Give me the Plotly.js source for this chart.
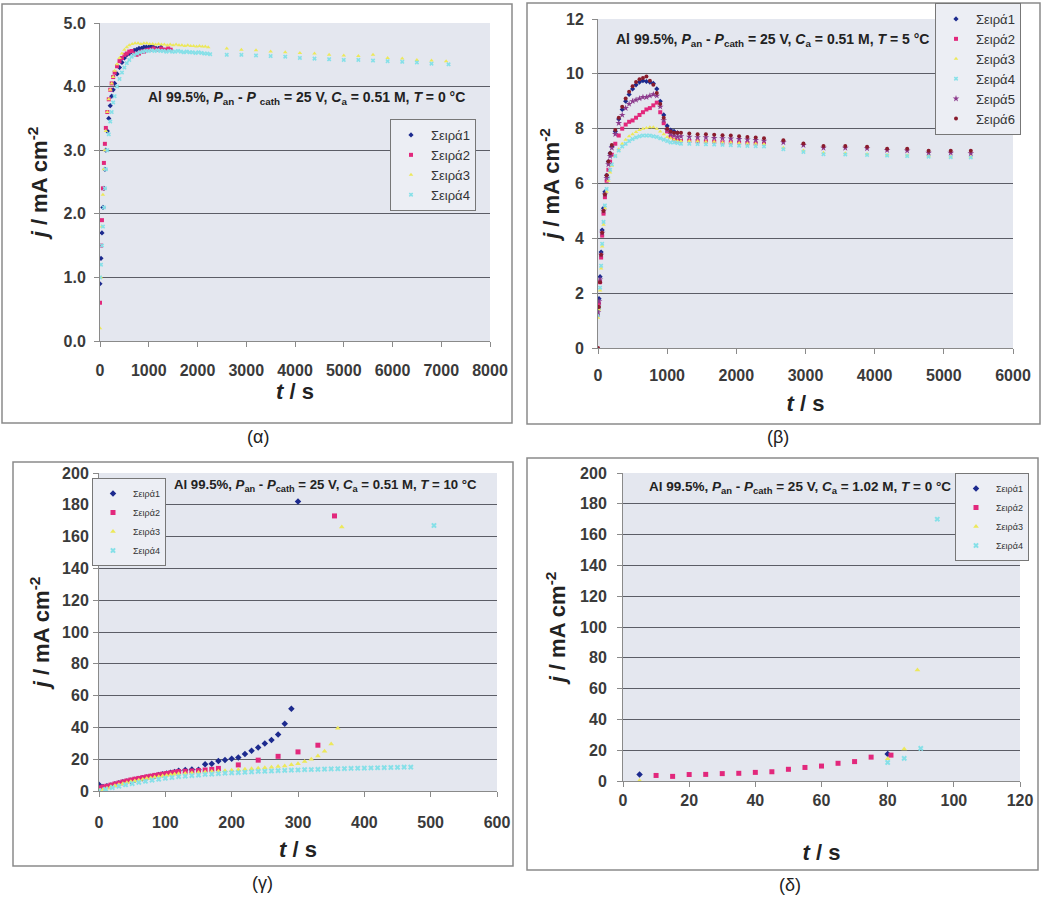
<!DOCTYPE html>
<html><head><meta charset="utf-8">
<script src="https://cdn.plot.ly/plotly-3.0.1.min.js"></script>
<style>body{margin:0;background:#fff}#chart{width:1042px;height:900px}</style>
</head><body><div id="chart"></div>
<script>
const seriesNames = ['Σειρά1','Σειρά2','Σειρά3','Σειρά4','Σειρά5','Σειρά6'];

// ---------- (α) Al 99.5%, 25 V, 0.51 M, 0 °C ----------
const tA1 = [0,20,40,60,80,100,120,150,180,210,240,270,300,350,400,450,500,550,600,650,700,750,800,850,900,950,1000,1050,1100,1150,1200,1250];
const jA1 = [0.9,1.3,1.7,2.1,2.4,2.7,3.0,3.3,3.5,3.7,3.85,3.95,4.05,4.2,4.3,4.38,4.45,4.5,4.52,4.55,4.57,4.58,4.6,4.6,4.62,4.62,4.62,4.63,4.62,4.6,4.6,4.62];
const tA2 = [0,20,40,60,80,100,120,150,180,210,240,270,300,350,400,450,500,550,600,650,700,750,800,850,900,950,1000,1050,1100,1150,1200,1250,1300,1350,1400,1450];
const jA2 = [0.6,1.5,1.9,2.4,2.8,3.1,3.35,3.6,3.8,3.95,4.05,4.15,4.22,4.32,4.4,4.45,4.5,4.52,4.55,4.56,4.52,4.5,4.52,4.55,4.55,4.57,4.58,4.58,4.6,4.58,4.58,4.6,4.58,4.58,4.6,4.58];
const tA3 = [0,20,40,60,80,100,120,150,180,210,240,270,300,350,400,450,500,550,600,660,720,780,840,900,960,1020,1080,1140,1200,1260,1320,1380,1440,1500,1560,1620,1680,1740,1800,1860,1920,1980,2040,2100,2160,2220,2600,2900,3200,3500,3800,4100,4400,4700,5000,5300,5600,5900,6200,6500,6800,7100];
const jA3 = [0.2,1.0,1.8,2.3,2.7,3.0,3.3,3.6,3.8,3.95,4.05,4.15,4.25,4.35,4.45,4.52,4.58,4.62,4.65,4.67,4.68,4.68,4.67,4.68,4.68,4.67,4.67,4.66,4.67,4.66,4.66,4.65,4.66,4.65,4.66,4.65,4.65,4.64,4.65,4.64,4.64,4.63,4.64,4.63,4.63,4.62,4.6,4.58,4.57,4.55,4.54,4.53,4.52,4.5,4.49,4.48,4.5,4.45,4.44,4.42,4.41,4.4];
const tA4 = [0,20,40,60,80,100,120,150,180,210,240,270,300,350,400,450,500,550,600,650,700,760,820,880,940,1000,1060,1120,1180,1240,1300,1360,1420,1480,1540,1600,1660,1720,1780,1840,1900,1960,2020,2080,2140,2200,2260,2600,2900,3200,3500,3800,4100,4400,4700,5000,5300,5600,5900,6200,6500,6800,7150];
const jA4 = [1.0,1.2,1.5,1.8,2.1,2.4,2.7,3.0,3.25,3.45,3.6,3.75,3.85,4.0,4.12,4.22,4.3,4.37,4.42,4.47,4.5,4.52,4.54,4.55,4.56,4.56,4.57,4.56,4.57,4.56,4.56,4.55,4.56,4.55,4.55,4.56,4.55,4.54,4.55,4.54,4.54,4.53,4.54,4.53,4.52,4.52,4.51,4.5,4.5,4.49,4.48,4.47,4.45,4.44,4.43,4.42,4.42,4.41,4.4,4.39,4.38,4.36,4.35];

// ---------- (β) Al 99.5%, 25 V, 0.51 M, 5 °C ----------
const tB_rise = [0,15,30,45,60,80,100,125,150,175,200,250,300,350,400,450,500,550,600,650,700,750,800,850,900,950,1000,1050,1100,1150];
const tB_plateau = [1200,1320,1440,1560,1680,1800,1920,2040,2160,2280,2400];
const tB_late = [2680,2970,3260,3575,3890,4180,4470,4780,5100,5390];
const jB1_rise = [1.4,1.8,2.6,3.5,4.3,5.1,5.7,6.3,6.8,7.1,7.35,7.9,8.35,8.7,9.0,9.25,9.45,9.6,9.7,9.75,9.72,9.7,9.65,9.45,9.0,8.5,8.1,7.95,7.9,7.85];
const jB2_rise = [1.2,1.6,2.4,3.3,4.1,4.9,5.5,6.1,6.5,6.8,7.05,7.45,7.75,8.0,8.15,8.25,8.3,8.4,8.5,8.6,8.7,8.75,8.85,8.95,8.6,8.2,7.9,7.7,7.6,7.55];
const jB2_plateau = [7.55,7.55,7.54,7.53,7.52,7.5,7.5,7.48,7.47,7.46,7.45];
const jB3_rise = [1.1,1.4,2.1,2.9,3.7,4.5,5.1,5.7,6.1,6.4,6.65,7.0,7.25,7.45,7.6,7.72,7.8,7.88,7.95,8.0,8.02,8.05,8.05,8.0,7.9,7.8,7.7,7.65,7.6,7.55];
const jB3_plateau = [7.55,7.55,7.54,7.52,7.52,7.5,7.5,7.48,7.46,7.45,7.44];
const jB3_late = [7.3,7.2,7.12,7.1,7.08,7.05,7.03,7.0,6.98,6.98];
const jB4_rise = [1.2,1.5,2.2,3.0,3.8,4.6,5.2,5.8,6.2,6.5,6.7,7.0,7.2,7.35,7.45,7.55,7.62,7.68,7.72,7.75,7.75,7.75,7.72,7.7,7.65,7.6,7.55,7.5,7.5,7.48];
const jB4_plateau = [7.45,7.45,7.44,7.43,7.42,7.41,7.4,7.38,7.37,7.36,7.35];
const jB4_late = [7.25,7.15,7.07,7.06,7.04,7.02,7.0,6.98,6.96,6.95];
const jB5_rise = [1.3,1.7,2.5,3.4,4.2,5.0,5.6,6.2,6.7,7.0,7.3,7.8,8.2,8.5,8.75,8.9,9.0,9.05,9.1,9.15,9.15,9.2,9.25,9.2,8.8,8.3,7.95,7.8,7.75,7.7];
const jB5_plateau = [7.72,7.7,7.68,7.68,7.66,7.65,7.64,7.62,7.6,7.58,7.56];
const jB5_late = [7.5,7.4,7.3,7.3,7.28,7.22,7.2,7.12,7.12,7.1];
const jB6_rise = [0,1.5,2.4,3.4,4.2,5.0,5.6,6.3,6.8,7.1,7.4,7.95,8.4,8.8,9.1,9.35,9.55,9.7,9.8,9.85,9.9,9.75,9.6,9.3,8.9,8.4,8.0,7.9,7.85,7.85];
const jB6_plateau = [7.85,7.82,7.8,7.8,7.78,7.76,7.75,7.72,7.7,7.68,7.65];
const jB6_late = [7.58,7.46,7.37,7.37,7.34,7.27,7.27,7.19,7.19,7.19];

// ---------- (γ) Al 99.5%, 25 V, 0.51 M, 10 °C ----------
const tG_early = [0,6,12,18,24,30,36,42,48,54,60,66,72,78,84,90,96,102,108,114,120];
const jG1_early = [4.0,2.5,3.0,3.5,4.2,4.8,5.5,6.0,6.5,7.0,7.5,8.0,8.5,9.0,9.5,10.0,10.5,11.0,11.5,12.0,12.8];
const jG2_early = [2.0,2.5,3.0,3.7,4.4,5.0,5.7,6.3,6.9,7.4,7.9,8.4,8.9,9.3,9.8,10.2,10.6,11.0,11.4,11.8,12.2];
const jG3_early = [0.5,1.0,1.8,2.6,3.3,4.0,4.6,5.2,5.8,6.3,6.8,7.3,7.8,8.2,8.6,9.0,9.4,9.8,10.2,10.5,10.8];
const tG1_late = [130,140,150,160,170,180,190,200,210,220,230,240,250,260,270,280,290,300];
const jG1_late = [13.2,13.5,13.4,16.8,17.2,18.8,19.5,20.3,21.0,23.2,25.3,27.4,29.9,32.0,35.6,42.3,51.8,182];
const tG2_late = [130,140,150,160,170,180,210,240,270,300,330,355];
const jG2_late = [12.4,12.6,12.8,13.2,13.6,14.2,16.4,19.4,21.8,24.6,28.8,173];
const tG3_late = [130,140,150,160,170,180,190,200,210,220,230,240,250,260,270,280,290,300,310,320,330,340,350,360,366];
const jG3_late = [11.0,11.3,11.6,11.9,12.2,12.5,12.8,13.1,13.4,13.7,14.0,14.3,14.6,15.0,15.4,15.8,16.5,17.2,18.5,20.0,22.0,25.0,29.5,39.5,166];
const tG4 = [0,10,20,30,40,50,60,70,80,90,100,110,120,130,140,150,160,170,180,190,200,210,220,230,240,250,260,270,280,290,300,310,320,330,340,350,360,370,380,390,400,410,420,430,440,450,460,470,505];
const jG4 = [0.2,1.0,2.1,3.0,3.9,4.6,5.4,6.1,6.8,7.4,8.0,8.5,9.0,9.3,9.7,10.0,10.4,10.6,10.9,11.2,11.4,11.6,11.8,12.0,12.3,12.4,12.6,12.8,13.0,13.1,13.2,13.4,13.5,13.6,13.8,13.9,14.0,14.1,14.2,14.3,14.4,14.5,14.6,14.7,14.8,14.9,15.0,15.0,167];

// ---------- (δ) Al 99.5%, 25 V, 1.02 M, 0 °C ----------
const tD1 = [5,80];
const jD1 = [4.3,17.5];
const tD2 = [10,15,20,25,30,35,40,45,50,55,60,65,70,75,81];
const jD2 = [3.6,3.0,4.2,4.3,4.8,5.0,5.6,6.0,7.6,8.8,9.7,11.5,12.6,15.5,16.8];
const tD3 = [5,80,85,89];
const jD3 = [0.2,14.5,20.8,72];
const tD4 = [80,85,90,95];
const jD4 = [12.0,14.7,21.2,170];

// ---------- tick values ----------
const xTicksA = [0,1000,2000,3000,4000,5000,6000,7000,8000];
const yTicksA = [0,1,2,3,4,5];
const xTicksB = [0,1000,2000,3000,4000,5000,6000];
const yTicksB = [0,2,4,6,8,10,12];
const xTicksG = [0,100,200,300,400,500,600];
const yTicksG = [0,20,40,60,80,100,120,140,160,180,200];
const xTicksD = [0,20,40,60,80,100,120];
const yTicksD = [0,20,40,60,80,100,120,140,160,180,200];

const colors = ['#1c2a8e','#e2287c','#ece85a','#86e0e8','#8c3a8c','#8a1c2c'];
const symbols = ['diamond','square','triangle-up','x','star','circle'];

function tr(i, x, y, ax, leg, size) {
  return {type:'scatter', mode:'markers', name:seriesNames[i], x:x, y:y,
    xaxis:'x'+ax, yaxis:'y'+ax, legend:leg,
    marker:{color:colors[i], symbol:symbols[i], size:size, line:{width:0}},
    hoverinfo:'x+y+name'};
}
const cat = (...a) => [].concat(...a);

const data = [
  tr(0,tA1,jA1,'','legend',4), tr(1,tA2,jA2,'','legend',4), tr(2,tA3,jA3,'','legend',4), tr(3,tA4,jA4,'','legend',4),
  tr(0,tB_rise,jB1_rise,'2','legend2',4),
  tr(1,cat(tB_rise,tB_plateau),cat(jB2_rise,jB2_plateau),'2','legend2',4),
  tr(2,cat(tB_rise,tB_plateau,tB_late),cat(jB3_rise,jB3_plateau,jB3_late),'2','legend2',4),
  tr(3,cat(tB_rise,tB_plateau,tB_late),cat(jB4_rise,jB4_plateau,jB4_late),'2','legend2',4),
  tr(4,cat(tB_rise,tB_plateau,tB_late),cat(jB5_rise,jB5_plateau,jB5_late),'2','legend2',5),
  tr(5,cat(tB_rise,tB_plateau,tB_late),cat(jB6_rise,jB6_plateau,jB6_late),'2','legend2',4),
  tr(0,cat(tG_early,tG1_late),cat(jG1_early,jG1_late),'3','legend3',5),
  tr(1,cat(tG_early,tG2_late),cat(jG2_early,jG2_late),'3','legend3',5),
  tr(2,cat(tG_early,tG3_late),cat(jG3_early,jG3_late),'3','legend3',5),
  tr(3,tG4,jG4,'3','legend3',5),
  tr(0,tD1,jD1,'4','legend4',5), tr(1,tD2,jD2,'4','legend4',5), tr(2,tD3,jD3,'4','legend4',5), tr(3,tD4,jD4,'4','legend4',5)
];

const FONT = 'Liberation Sans, Arial, sans-serif';
const gridC = '#5b5d66';
function xax(dom, anchor, range, tv, tls, tstand) {
  return {domain:dom, anchor:anchor, range:range, tickmode:'array', tickvals:tv,
    showline:true, linecolor:'#8a8a8a', linewidth:1, ticks:'outside', ticklen:5, tickcolor:'#8a8a8a',
    showgrid:false, zeroline:false, ticklabelstandoff:tls,
    tickfont:{family:FONT, size:16, color:'#3a3a3a', weight:'bold'},
    title:{text:'<i>t</i> / s', standoff:tstand, font:{family:FONT, size:22, color:'#222', weight:'bold'}}};
}
function yax(dom, anchor, range, tv, fmt, tls, tstand) {
  return {domain:dom, anchor:anchor, range:range, tickmode:'array', tickvals:tv, tickformat:fmt,
    showline:true, linecolor:'#8a8a8a', linewidth:1, ticks:'outside', ticklen:5, tickcolor:'#8a8a8a',
    showgrid:false, zeroline:false, ticklabelstandoff:tls,
    minor:{tickmode:'array', tickvals:tv.slice(1, -1), showgrid:true, gridcolor:gridC, gridwidth:1, ticks:'inside', ticklen:0},
    tickfont:{family:FONT, size:16, color:'#3a3a3a', weight:'bold'},
    title:{text:'<i>j</i> / mA cm<sup>-2</sup>', standoff:tstand, font:{family:FONT, size:22, color:'#222', weight:'bold'}}};
}
function legendCfg(x, y, size) {
  return {x:x, y:y, xanchor:'left', yanchor:'top', bgcolor:'#eceef4', bordercolor:'#777', borderwidth:1,
    font:{family:FONT, size:size, color:'#333'}, itemwidth:30, tracegroupgap:0};
}
function cond(text, x, y, size) {
  return {xref:'paper', yref:'paper', x:x, y:y, xanchor:'center', yanchor:'middle', showarrow:false,
    text:text, font:{family:FONT, size:size, color:'#222', weight:'bold'}};
}
function cap(text, x, y) {
  return {xref:'paper', yref:'paper', x:x, y:y, xanchor:'center', yanchor:'middle', showarrow:false,
    text:text, font:{family:FONT, size:18, color:'#222'}};
}
function box(x0, x1, y0, y1) {
  return {type:'rect', xref:'paper', yref:'paper', x0:x0, x1:x1, y0:y0, y1:y1, line:{color:'#8a8a8a', width:1.5}};
}
const W = 1042, H = 900;
const px = v => v / W, py = v => 1 - v / H;

const layout = {
  width:W, height:H, margin:{l:0, r:0, t:0, b:0}, paper_bgcolor:'#ffffff', plot_bgcolor:'#e4e7ef',
  font:{family:FONT}, showlegend:true,
  xaxis: xax([px(100), px(490)], 'y', [0,8000], xTicksA, 10, 4),
  yaxis: yax([py(341), py(23)], 'x', [0,5], yTicksA, '.1f', 5, 9),
  xaxis2: xax([px(598), px(1013)], 'y2', [0,6000], xTicksB, 8, 12),
  yaxis2: yax([py(348), py(19)], 'x2', [0,12], yTicksB, 'd', 5, 0),
  xaxis3: xax([px(99), px(497)], 'y3', [0,600], xTicksG, 12, 11),
  yaxis3: yax([py(791), py(473)], 'x3', [0,200], yTicksG, 'd', 1, 6),
  xaxis4: xax([px(623), px(1020)], 'y4', [0,120], xTicksD, 0, 36),
  yaxis4: yax([py(781), py(473)], 'x4', [0,200], yTicksD, 'd', 7, 8),
  legend: legendCfg(px(390), py(119), 13),
  legend2: legendCfg(px(935), py(3), 13),
  legend3: legendCfg(px(92), py(478), 9),
  legend4: legendCfg(px(955), py(473), 9),
  shapes:[box(px(2),px(512),py(423),py(4)), box(px(527),px(1040),py(424),py(3)),
          box(px(13),px(513),py(866),py(462)), box(px(527),px(1038),py(870),py(458))],
  annotations:[
    cond('Al 99.5%, <i>P</i><sub>an</sub> - <i>P</i> <sub>cath</sub> = 25 V, <i>C</i><sub>a</sub> = 0.51 M, <i>T</i> = 0 °C', px(306), py(98), 14),
    cond('Al 99.5%, <i>P</i><sub>an</sub> - <i>P</i><sub>cath</sub> = 25 V, <i>C</i><sub>a</sub> = 0.51 M, <i>T</i> = 5 °C', px(772), py(40), 14),
    cond('Al 99.5%, <i>P</i><sub>an</sub> - <i>P</i><sub>cath</sub> = 25 V, <i>C</i><sub>a</sub> = 0.51 M, <i>T</i> = 10 °C', px(325), py(485), 13.2),
    cond('Al 99.5%, <i>P</i><sub>an</sub> - <i>P</i><sub>cath</sub> = 25 V, <i>C</i><sub>a</sub> = 1.02 M, <i>T</i> = 0 °C', px(800), py(487), 13.5),
    cap('(α)', px(258), py(437)), cap('(β)', px(778), py(437)),
    cap('(γ)', px(262), py(883)), cap('(δ)', px(790), py(885))
  ]
};
Plotly.newPlot('chart', data, layout, {displayModeBar:false, responsive:false});
</script>
</body></html>
